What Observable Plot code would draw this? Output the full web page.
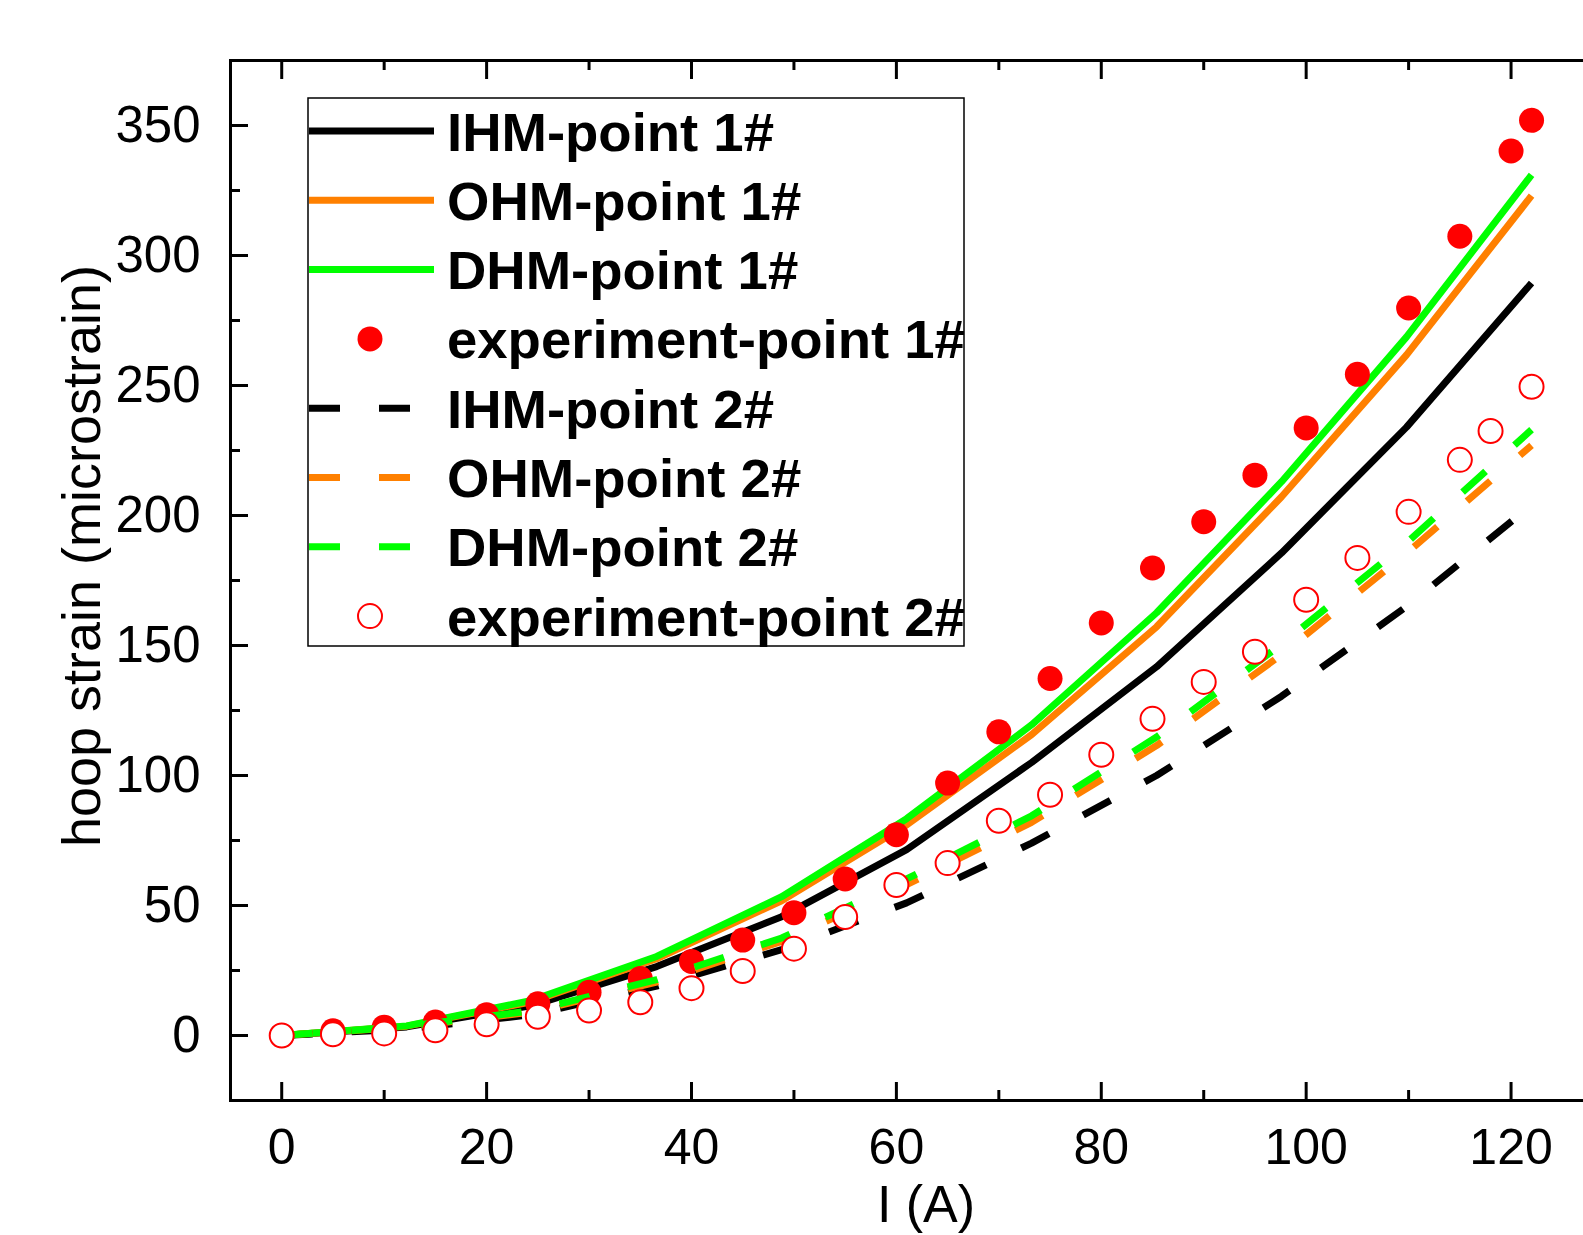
<!DOCTYPE html>
<html><head><meta charset="utf-8">
<script src="https://cdn.jsdelivr.net/npm/d3@7"></script>
<script src="https://cdn.jsdelivr.net/npm/@observablehq/plot@0.6"></script>
<style>
html,body{margin:0;padding:0;background:#fff;overflow:hidden;}
#chart{position:relative;width:1583px;height:1235px;overflow:hidden;}
#chart svg{max-width:none !important;}
</style></head><body><div id="chart"></div>
<script>
// ---- data ----
const modelCurrent = [0, 12.2, 24.4, 36.6, 48.8, 61, 73.2, 85.4, 97.6, 109.8, 122];
const ihm1 = [0, 3.3, 11.5, 26.5, 45.7, 71.5, 105, 141.8, 185.6, 234, 289.4];
const ohm1 = [0, 3.6, 13, 29.5, 51.8, 81, 115.7, 157.2, 207.2, 261.8, 323];
const dhm1 = [0, 3.7, 13.5, 30.4, 53.4, 83.4, 119.5, 162.6, 213, 268.7, 331];
const ihm2 = [0, 2.5, 8, 19, 33, 51, 74, 100, 130.5, 165, 204];
const ohm2 = [0, 3.3, 9, 20.5, 36.2, 58, 82, 111.5, 146.5, 185.5, 227];
const dhm2 = [0, 3.5, 9.5, 21.5, 37.5, 60.2, 84.5, 114.8, 150.5, 189.5, 233];

const expCurrent1 = [0, 5, 10, 15, 20, 25, 30, 35, 40, 45, 50, 55, 60, 65, 70, 75, 80, 85, 90, 95, 100, 105, 110, 115, 120, 122];
const exp1 = [0, 1.8, 3.2, 5.2, 8, 12.2, 16.6, 21.9, 28.5, 36.7, 47.2, 60.2, 77.2, 97.1, 116.8, 137.3, 158.7, 179.8, 197.6, 215.5, 233.7, 254.3, 279.8, 307.4, 340.2, 352];
const expCurrent2 = [0, 5, 10, 15, 20, 25, 30, 35, 40, 45, 50, 55, 60, 65, 70, 75, 80, 85, 90, 95, 100, 105, 110, 115, 118, 122];
const exp2 = [0, 0.5, 0.8, 2, 4.3, 7.2, 9.6, 12.8, 18.2, 24.8, 33.4, 45.6, 57.9, 66.3, 82.6, 92.6, 108, 121.8, 136, 147.6, 167.6, 183.7, 201.4, 221.4, 232.5, 249.5];

const xMajor = [0, 20, 40, 60, 80, 100, 120];
const xMinor = [10, 30, 50, 70, 90, 110];
const yMajor = [0, 50, 100, 150, 200, 250, 300, 350];
const yMinor = [25, 75, 125, 175, 225, 275, 325];

const seriesNames = ["IHM-point 1#", "OHM-point 1#", "DHM-point 1#", "experiment-point 1#",
                     "IHM-point 2#", "OHM-point 2#", "DHM-point 2#", "experiment-point 2#"];
const BLACK = "#000000", ORANGE = "#FF8000", GREEN = "#00FF00", RED = "#FF0000";
const DASH = "31,39";

const toRows = (xs, ys) => xs.map((x, i) => ({x, y: ys[i]}));

// ---- layout ----
const W = 1625, H = 1235;
const mL = 230, mT = 60, mB = 135, mR = 12;
const FONT = "'Liberation Sans', Arial, Helvetica, sans-serif";

const lineOpts = (color, dash) => ({
  x: "x", y: "y", stroke: color, strokeWidth: 7,
  strokeLinecap: "butt", strokeLinejoin: "miter",
  strokeDasharray: dash ?? undefined, curve: "linear"
});

const plot = Plot.plot({
  width: W, height: H,
  marginLeft: mL, marginTop: mT, marginBottom: mB, marginRight: mR,
  style: {fontFamily: FONT, background: "white", maxWidth: "none", height: H + "px", width: W + "px"},
  x: {domain: [-5, 130]},
  y: {domain: [-25, 375]},
  marks: [
    Plot.line(toRows(modelCurrent, ihm1), lineOpts(BLACK)),
    Plot.line(toRows(modelCurrent, ohm1), lineOpts(ORANGE)),
    Plot.line(toRows(modelCurrent, dhm1), lineOpts(GREEN)),
    Plot.dot(toRows(expCurrent1, exp1), {x: "x", y: "y", r: 12.5, fill: RED, stroke: "none"}),
    Plot.line(toRows(modelCurrent, ihm2), lineOpts(BLACK, DASH)),
    Plot.line(toRows(modelCurrent, ohm2), lineOpts(ORANGE, DASH)),
    Plot.line(toRows(modelCurrent, dhm2), lineOpts(GREEN, DASH)),
    Plot.dot(toRows(expCurrent2, exp2), {x: "x", y: "y", r: 12, fill: "white", stroke: RED, strokeWidth: 2}),
    Plot.frame({stroke: BLACK, strokeWidth: 3}),
    Plot.axisX({anchor: "bottom", ticks: xMajor, tickSize: -18, tickPadding: 46, strokeWidth: 3,
                fontSize: 50, tickFormat: d => String(d), label: null, fill: BLACK}),
    Plot.axisX({anchor: "bottom", ticks: xMinor, tickSize: -10, strokeWidth: 3, tickFormat: () => "", label: null}),
    Plot.axisX({anchor: "top", ticks: xMajor, tickSize: -18, strokeWidth: 3, tickFormat: () => "", label: null}),
    Plot.axisX({anchor: "top", ticks: xMinor, tickSize: -9, strokeWidth: 3, tickFormat: () => "", label: null}),
    Plot.axisY({anchor: "left", ticks: yMajor, tickSize: -18, tickPadding: 48, strokeWidth: 3,
                fontSize: 51, tickFormat: d => String(d), label: null, fill: BLACK}),
    Plot.axisY({anchor: "left", ticks: yMinor, tickSize: -10, strokeWidth: 3, tickFormat: () => "", label: null})
  ]
});

const svg = d3.select(plot);
svg.style("overflow", "hidden").style("max-width", "none").style("width", W + "px").style("height", H + "px");

// axis titles
svg.append("text")
  .attr("transform", "translate(100,556) rotate(-90)")
  .attr("text-anchor", "middle")
  .attr("font-family", FONT).attr("font-size", 54).attr("fill", BLACK)
  .text("hoop strain (microstrain)");
svg.append("text")
  .attr("x", 926).attr("y", 1222)
  .attr("text-anchor", "middle")
  .attr("font-family", FONT).attr("font-size", 52).attr("fill", BLACK)
  .text("I (A)");

// legend (inside the plot area, top-left)
const legendStyles = [
  {kind: "line", color: BLACK}, {kind: "line", color: ORANGE}, {kind: "line", color: GREEN},
  {kind: "dot"},
  {kind: "line", color: BLACK, dash: DASH}, {kind: "line", color: ORANGE, dash: DASH}, {kind: "line", color: GREEN, dash: DASH},
  {kind: "circle"}
];
const lg = svg.append("g").attr("class", "legend");
lg.append("rect").attr("x", 308).attr("y", 98).attr("width", 656).attr("height", 548)
  .attr("fill", "white").attr("stroke", BLACK).attr("stroke-width", 1.5);
const fs = 54.5;
seriesNames.forEach((name, i) => {
  const cy = 131 + i * 69.3;
  const st = legendStyles[i];
  if (st.kind === "line") {
    lg.append("line").attr("x1", 309).attr("x2", 434).attr("y1", cy).attr("y2", cy)
      .attr("stroke", st.color).attr("stroke-width", 7)
      .attr("stroke-dasharray", st.dash || null);
  } else if (st.kind === "dot") {
    lg.append("circle").attr("cx", 370).attr("cy", cy).attr("r", 12.5).attr("fill", RED);
  } else {
    lg.append("circle").attr("cx", 370).attr("cy", cy).attr("r", 12)
      .attr("fill", "white").attr("stroke", RED).attr("stroke-width", 2);
  }
  lg.append("text").attr("x", 447).attr("y", cy + 0.358 * fs)
    .attr("text-anchor", "start")
    .attr("font-family", FONT).attr("font-size", fs).attr("font-weight", "bold").attr("fill", BLACK)
    .text(name);
});

document.getElementById("chart").appendChild(plot);
</script>
</body></html>
